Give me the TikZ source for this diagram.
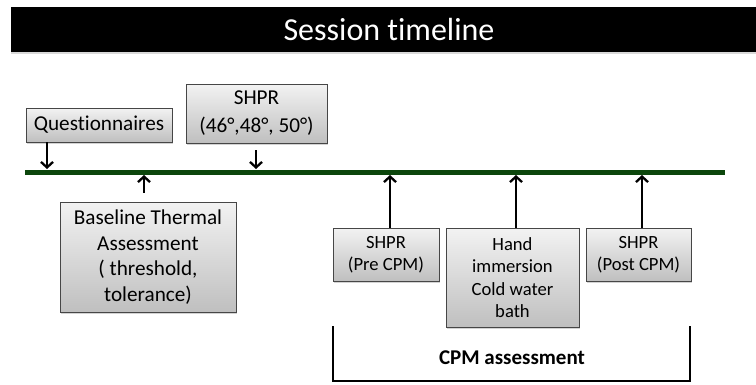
\documentclass[tikz,border=0pt]{standalone}
\usepackage{fontspec}
\setmainfont{Carlito}[Ligatures=NoCommon]
\usetikzlibrary{arrows.meta,shadows}
\definecolor{tlgreen}{RGB}{12,70,12}
\definecolor{boxline}{RGB}{70,70,70}
\tikzset{
  stepbox/.style={rectangle,draw=boxline,line width=0.8pt,top color=white!95!black,
    bottom color=white!75!black,inner sep=0pt,align=center,
    drop shadow={shadow xshift=1pt,shadow yshift=-1.5pt,opacity=0.35}},
  bigtxt/.style={font=\fontsize{21.2}{25.7}\selectfont},
  smalltxt/.style={font=\fontsize{18.6}{22.4}\selectfont},
  mark arrow/.style={line width=2.3pt,-{Straight Barb[length=5.5pt,width=12pt,line width=2.3pt]}},
  timeline/.style={tlgreen,line width=5pt},
  bracket/.style={line width=2.4pt}
}

\begin{document}
\begin{tikzpicture}[x=1pt,y=-1pt]
  \useasboundingbox (0,0) rectangle (756,384);
  \fill[black,drop shadow={shadow xshift=0pt,shadow yshift=-1.5pt,opacity=0.3}]
    (11,7) rectangle (756,52);
  \node[text=white,font=\fontsize{32}{36}\selectfont] (title) at (389,30) {Session timeline};
  \draw[timeline] (25,172) -- (725,172);
  \node[stepbox,bigtxt,minimum width=146pt,minimum height=34pt] (quest) at (99,125) {Questionnaires};
  \node[stepbox,minimum width=141pt,minimum height=59pt,font=\fontsize{21.2}{28}\selectfont] (shpr) at (256.5,113.5) {SHPR\\(46°,48°, 50°)};
  \node[stepbox,bigtxt,minimum width=176pt,minimum height=110pt] (base) at (148,257)
    {Baseline Thermal\\Assessment\\( threshold,\\tolerance)};
  \node[stepbox,smalltxt,minimum width=106pt,minimum height=53pt] (pre) at (386,254.5) {SHPR\\(Pre CPM)};
  \node[stepbox,smalltxt,minimum width=133pt,minimum height=99pt] (hand) at (512.5,277.5)
    {Hand\\immersion\\Cold water\\bath};
  \node[stepbox,smalltxt,minimum width=105pt,minimum height=53pt] (post) at (638.5,254.5) {SHPR\\(Post CPM)};
  \coordinate (tq) at (47,169);
  \coordinate (ts) at (256,169);
  \coordinate (tb) at (144,175);
  \coordinate (tp) at (390,175);
  \coordinate (th) at (516,175);
  \coordinate (tt) at (642,175);
  \draw[mark arrow] (quest.south -| tq) -- (tq);
  \draw[mark arrow,shorten <=7pt] (shpr.south -| ts) -- (ts);
  \draw[mark arrow,shorten <=9pt] (base.north -| tb) -- (tb);
  \draw[mark arrow] (pre.north -| tp) -- (tp);
  \draw[mark arrow] (hand.north -| th) -- (th);
  \draw[mark arrow] (post.north -| tt) -- (tt);
  \coordinate (bl) at (333,326);
  \coordinate (br) at (690,326);
  \draw[bracket] (bl) -- (bl |- 0,381) -- (br |- 0,381) -- (br);
  \node[font=\fontsize{21}{24}\selectfont\bfseries] (cpm) at (512,358) {CPM assessment};
\end{tikzpicture}
\end{document}
